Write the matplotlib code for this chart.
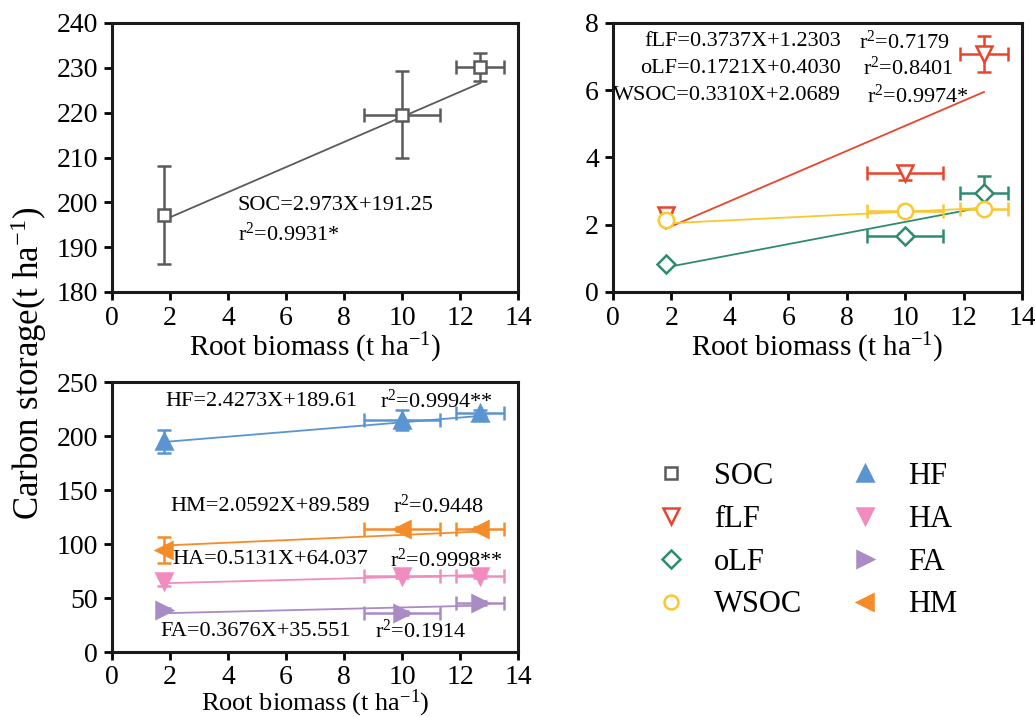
import numpy as np
import matplotlib
matplotlib.use("Agg")
import matplotlib.pyplot as plt
from matplotlib.lines import Line2D

plt.rcParams['font.family'] = ['Liberation Serif', 'DejaVu Serif']
plt.rcParams['mathtext.fontset'] = 'custom'
plt.rcParams['mathtext.rm'] = 'Liberation Serif'
plt.rcParams['mathtext.it'] = 'Liberation Serif:italic'

# root biomass (x) and its error
root_x = [1.8, 10.0, 12.7]
root_xerr = [0, 1.31, 0.83]
fit_x = [1.8, 12.7]

# panel a: SOC
soc = [197.2, 219.5, 230.2]
soc_err = [11.0, 9.7, 3.2]
soc_fit = [196.1, 226.6]

# panel b: fLF, oLF, WSOC
flf = [2.3, 3.53, 7.08]
flf_err = [0.08, 0.2, 0.53]
flf_fit = [1.88, 5.95]
olf = [0.83, 1.66, 2.95]
olf_err = [0.06, 0.08, 0.5]
olf_fit = [0.73, 2.53]
wsoc = [2.14, 2.40, 2.48]
wsoc_err = [0.08, 0.05, 0.05]
wsoc_fit = [2.04, 2.50]

# panel c: HF, HM, HA, FA
hf = [195.0, 215.0, 221.4]
hf_err = [11.0, 9.0, 3.0]
hf_fit = [194.5, 218.6]
hm = [94.6, 113.8, 113.8]
hm_err = [12.0, 2.0, 2.0]
hm_fit = [98.6, 111.6]
ha = [65.3, 70.5, 70.5]
ha_err = [4.0, 2.0, 2.0]
ha_fit = [63.7, 71.4]
fa = [39.0, 35.9, 45.2]
fa_err = [2.0, 2.0, 2.0]
fa_fit = [35.9, 43.0]

c_soc = '#5a5a5a'
c_flf = '#e8452c'
c_olf = '#2e8b6e'
c_wsoc = '#f9c72f'
c_hf = '#5b95d1'
c_ha = '#f28cbf'
c_fa = '#a98bc6'
c_hm = '#f68b2a'

xerr = np.array(root_xerr, dtype=float)
xerr[xerr == 0] = np.nan

fig = plt.figure(figsize=(10.35, 7.17), dpi=100)
W, H = 1035.0, 717.0
ax1 = fig.add_axes([112 / W, 1 - 292 / H, 406 / W, 269 / H])
ax2 = fig.add_axes([613 / W, 1 - 292 / H, 409 / W, 269 / H])
ax3 = fig.add_axes([112 / W, 1 - 652 / H, 406 / W, 270 / H])


def series(ax, y, yerr, fit, color, marker, ms, hollow=True):
    ax.plot(fit_x, fit, color=color, lw=1.3, zorder=2)
    ax.errorbar(root_x, y, yerr=yerr, xerr=xerr, fmt=marker, ms=ms,
                mfc='white' if hollow else color, mec=color, mew=1.8,
                ecolor=color, elinewidth=1.8, capsize=5, capthick=1.8, zorder=3)


series(ax1, soc, soc_err, soc_fit, c_soc, 's', 8)
series(ax2, flf, flf_err, flf_fit, c_flf, 'v', 12)
series(ax2, olf, olf_err, olf_fit, c_olf, 'D', 9)
series(ax2, wsoc, wsoc_err, wsoc_fit, c_wsoc, 'o', 11)
series(ax3, hf, hf_err, hf_fit, c_hf, '^', 12, hollow=False)
series(ax3, hm, hm_err, hm_fit, c_hm, '<', 12, hollow=False)
series(ax3, ha, ha_err, ha_fit, c_ha, 'v', 12, hollow=False)
series(ax3, fa, fa_err, fa_fit, c_fa, '>', 12, hollow=False)

for ax, ylim, step in [(ax1, (180, 240), 10), (ax2, (0, 8), 2), (ax3, (0, 250), 50)]:
    ax.set_xlim(0, 14)
    ax.set_ylim(*ylim)
    ax.set_xticks(np.arange(0, 15, 2))
    ax.set_yticks(np.arange(ylim[0], ylim[1] + step / 2, step))
    ax.tick_params(direction='out', length=6, width=2, labelsize=20, pad=4)
    for s in ax.spines.values():
        s.set_linewidth(2.2)
        s.set_color('#1a1a1a')
    if ax is ax3:
        ax.tick_params(axis='x', pad=3)
        ax.set_xlabel('Root biomass (t ha$^{-1}$)', fontsize=19, labelpad=-1.5)
    else:
        ax.set_xlabel('Root biomass (t ha$^{-1}$)', fontsize=21, labelpad=0)

tsize = 16
ax1.text(4.34, 199.4, 'SOC=2.973X+191.25', fontsize=tsize, va='center')
ax1.text(4.34, 193.0, 'r$^2$=0.9931*', fontsize=tsize, va='center')

ax2.text(7.8, 7.44, 'fLF=0.3737X+1.2303', fontsize=tsize, va='center', ha='right')
ax2.text(7.8, 6.65, 'oLF=0.1721X+0.4030', fontsize=tsize, va='center', ha='right')
ax2.text(7.8, 5.83, 'WSOC=0.3310X+2.0689', fontsize=tsize, va='center', ha='right')
ax2.text(8.42, 7.44, 'r$^2$=0.7179', fontsize=tsize, va='center')
ax2.text(8.56, 6.65, 'r$^2$=0.8401', fontsize=tsize, va='center')
ax2.text(8.70, 5.83, 'r$^2$=0.9974*', fontsize=tsize, va='center')

ax3.text(1.83, 232, 'HF=2.4273X+189.61', fontsize=tsize, va='center')
ax3.text(9.24, 232, 'r$^2$=0.9994**', fontsize=tsize, va='center')
ax3.text(2.03, 134.8, 'HM=2.0592X+89.589', fontsize=tsize, va='center')
ax3.text(9.69, 134.8, 'r$^2$=0.9448', fontsize=tsize, va='center')
ax3.text(2.07, 85.3, 'HA=0.5131X+64.037', fontsize=tsize, va='center')
ax3.text(9.59, 85.3, 'r$^2$=0.9998**', fontsize=tsize, va='center')
ax3.text(1.66, 18.8, 'FA=0.3676X+35.551', fontsize=tsize, va='center')
ax3.text(9.07, 18.8, 'r$^2$=0.1914', fontsize=tsize, va='center')

fig.text(29 / W, 1 - 363 / H, 'Carbon storage(t ha$^{-1}$)', rotation=90,
         fontsize=25, ha='center', va='center')

labels = ['SOC', 'fLF', 'oLF', 'WSOC', 'HF', 'HA', 'FA', 'HM']
markers = ['s', 'v', 'D', 'o', '^', 'v', '>', '<']
colors = [c_soc, c_flf, c_olf, c_wsoc, c_hf, c_ha, c_fa, c_hm]
sizes = [8, 11, 9, 10, 12, 12, 12, 12]
handles = []
for i, (lab, m, c, s) in enumerate(zip(labels, markers, colors, sizes)):
    hollow = i < 4
    handles.append(Line2D([], [], ls='none', marker=m, ms=s, mec=c, mew=1.8,
                          mfc='white' if hollow else c, label=lab))
fig.legend(handles=handles, ncol=2, frameon=False, fontsize=22,
           loc='upper left', bbox_to_anchor=(656 / W, 1 - 462 / H),
           borderpad=0, borderaxespad=0, handlelength=1.0, handletextpad=0.9,
           columnspacing=1.55, labelspacing=0.45)

fig.savefig('out.png', dpi=100)
